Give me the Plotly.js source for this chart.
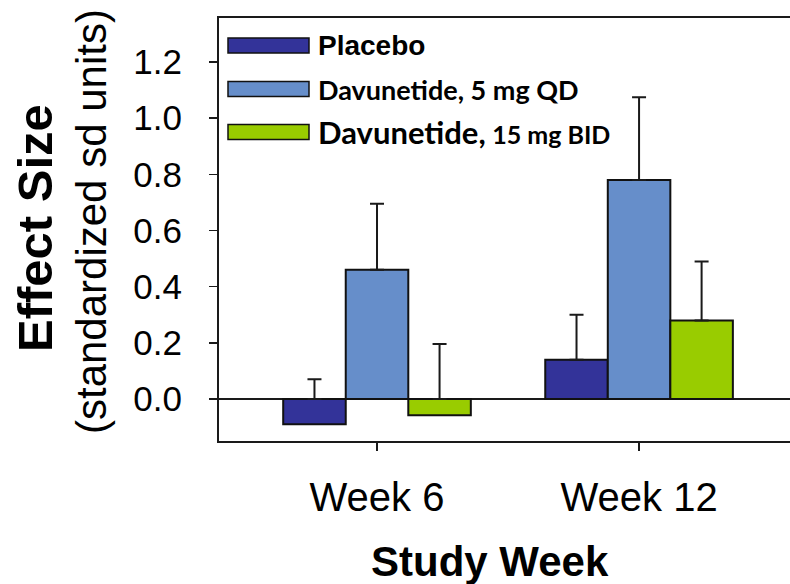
<!DOCTYPE html>
<html><head><meta charset="utf-8">
<script src="https://cdn.plot.ly/plotly-3.0.1.min.js"></script>
<style>html,body{margin:0;padding:0;background:#fff}#chart{width:790px;height:584px}</style>
</head><body><div id="chart"></div>
<script>
// ---- data ----
const weeks = ["Week 6", "Week 12"];
const seriesNames = ["Placebo", "Davunetide, 5 mg QD", "Davunetide, 15 mg BID"];
const placebo = [-0.09, 0.14];
const dav5 = [0.46, 0.78];
const dav15 = [-0.058, 0.28];
const placeboErr = [0.16, 0.16];
const dav5Err = [0.235, 0.295];
const dav15Err = [0.254, 0.21];
const yTicks = [0, 0.2, 0.4, 0.6, 0.8, 1.0, 1.2];
const yTickText = ["0.0", "0.2", "0.4", "0.6", "0.8", "1.0", "1.2"];

const colors = ["#333399", "#668ECA", "#99CC00"];
const values = [placebo, dav5, dav15];
const errs = [placeboErr, dav5Err, dav15Err];

const W = 790, H = 584;
const L = 219, R = 0, T = 18, B = 143;
const px = x => (x - L) / (W - L - R);
const py = y => (H - B - y) / (H - T - B);

const traces = [];
values.forEach((v, i) => {
  traces.push({
    type: 'bar', x: weeks, y: v, name: seriesNames[i], offsetgroup: String(i),
    marker: {color: colors[i], line: {color: '#111', width: 2}},
    showlegend: false, hoverinfo: 'skip'
  });
});
// error bars drawn from the bar top (or zero for negative bars)
values.forEach((v, i) => {
  const base = v.map(d => Math.max(d, 0));
  traces.push({
    type: 'bar', x: weeks, y: base, offsetgroup: String(i),
    marker: {color: 'rgba(0,0,0,0)', line: {width: 0}},
    error_y: {type: 'data', symmetric: false, array: v.map((d, k) => d + errs[i][k] - base[k]),
              arrayminus: v.map(() => 0), color: '#1a1a1a', thickness: 2, width: 7},
    showlegend: false, hoverinfo: 'skip'
  });
});

const shapes = [], annotations = [];
const rowY = [45.5, 89, 132];
seriesNames.forEach((n, i) => {
  shapes.push({type: 'rect', xref: 'paper', yref: 'paper',
    x0: px(228), x1: px(309), y0: py(rowY[i] + 7.5), y1: py(rowY[i] - 7.5),
    fillcolor: colors[i], line: {color: '#111', width: 1.5}});
});
const legendText = [
  '<b>Placebo</b>',
  '<b>Davunetide, 5 mg QD</b>',
  '<b><span style="font-size:31px">Davunetide,</span> <span style="font-size:25px">15 mg BID</span></b>'
];
const legendFont = [
  {family: 'Liberation Sans, Arial, sans-serif', size: 28, color: '#000'},
  {family: 'Lato, sans-serif', size: 27, color: '#000'},
  {family: 'Lato, sans-serif', size: 27, color: '#000'}
];
legendText.forEach((t, i) => {
  annotations.push({xref: 'paper', yref: 'paper', x: px(316), y: py(rowY[i]),
    xanchor: 'left', yanchor: 'middle', showarrow: false, text: t, font: legendFont[i]});
});
annotations.push({xref: 'paper', yref: 'paper', x: px(35), y: py(228), textangle: -90,
  xanchor: 'center', yanchor: 'middle', showarrow: false,
  text: '<b>Effect Size</b>', font: {family: 'Liberation Sans, Arial, sans-serif', size: 49, color: '#000'}});
annotations.push({xref: 'paper', yref: 'paper', x: px(91), y: py(222), textangle: -90,
  xanchor: 'center', yanchor: 'middle', showarrow: false,
  text: '(standardized sd units)', font: {family: 'Liberation Sans, Arial, sans-serif', size: 42, color: '#000'}});
annotations.push({xref: 'paper', yref: 'paper', x: px(490), y: py(561),
  xanchor: 'center', yanchor: 'middle', showarrow: false,
  text: '<b>Study Week</b>', font: {family: 'Liberation Sans, Arial, sans-serif', size: 42, color: '#000'}});

const layout = {
  width: W, height: H,
  margin: {l: L, r: R, t: T, b: B, pad: 0},
  paper_bgcolor: '#fff', plot_bgcolor: '#fff',
  barmode: 'group', bargap: 0.284, bargroupgap: 0,
  showlegend: false,
  font: {family: 'Liberation Sans, Arial, sans-serif', color: '#000'},
  xaxis: {type: 'category', range: [-0.603, 1.576], showgrid: false, zeroline: false,
    showline: true, mirror: true, linecolor: '#1a1a1a', linewidth: 2,
    ticks: 'outside', ticklen: 8, tickwidth: 1.5, tickcolor: '#1a1a1a',
    tickfont: {size: 40, color: '#000'}, ticklabelstandoff: 12},
  yaxis: {range: [-0.1496, 1.357], showgrid: false, zeroline: true, zerolinecolor: '#1a1a1a', zerolinewidth: 1.5,
    showline: true, linecolor: '#1a1a1a', linewidth: 2,
    ticks: 'outside', ticklen: 8, tickwidth: 1.5, tickcolor: '#1a1a1a',
    tickvals: yTicks, ticktext: yTickText, tickfont: {size: 35, color: '#000'}, ticklabelstandoff: 20},
  shapes: shapes, annotations: annotations
};
Plotly.newPlot('chart', traces, layout, {staticPlot: true, displayModeBar: false});
</script></body></html>
